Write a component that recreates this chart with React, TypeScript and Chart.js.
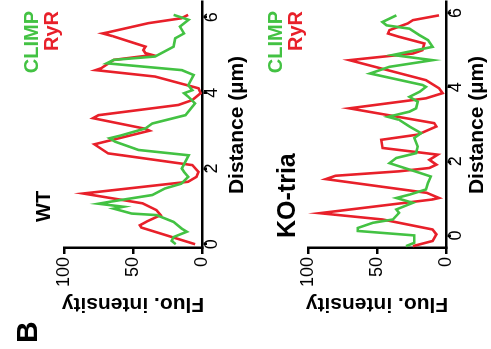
import React, { useEffect, useRef } from 'react';
import { Chart, registerables } from 'chart.js';

Chart.register(...registerables);

// ---- data (distance in µm, fluorescence intensity) ----
const distanceTicks = [0, 2, 4, 6];
const intensityTicks = [0, 50, 100];

const wtClimpDistance = [0, 0.09, 0.19, 0.33, 0.41, 0.59, 0.77, 0.81, 0.94, 0.99, 1.07, 1.12, 1.3, 1.47, 1.6, 1.78, 1.91, 2.0, 2.35, 2.49, 2.71, 2.8, 2.88, 3.06, 3.19, 3.41, 3.72, 3.9, 3.99, 4.07, 4.2, 4.47, 4.6, 4.78, 4.87, 4.96, 5.22, 5.44, 5.57, 5.75, 5.93, 6.06];
const wtClimpIntensity = [19, 22, 20.6, 11, 14.6, 20.6, 33, 51, 64, 57, 75, 67, 36, 27, 15, 10, 13, 14.6, 9.7, 46, 63, 67, 58, 41, 36, 12, 5, 10, 13, 7, 10, 6, 14.6, 69, 64, 34, 20.6, 19.4, 13, 16, 9.7, 20.6];

const wtRyrDistance = [0, 0.44, 0.5, 0.6, 0.77, 0.9, 1.08, 1.34, 1.65, 1.78, 1.91, 2.09, 2.35, 2.4, 2.64, 3.0, 3.05, 3.33, 3.41, 3.68, 3.81, 3.99, 4.12, 4.43, 4.6, 4.65, 4.87, 5.0, 5.05, 5.13, 5.22, 5.5, 5.57, 5.6, 5.84, 5.97, 6.06];
const wtRyrIntensity = [5, 44, 45, 40, 30, 33, 43, 86, 10, 4, 2.5, 7, 58, 68, 78, 38, 41, 79, 75, 17, 7, 1, 2.5, 34, 77, 73, 64, 36, 41, 42.5, 41, 65, 72, 68, 39, 15, 10];

const koClimpDistance = [-0.29, -0.2, 0.0, 0.12, 0.2, 0.34, 0.43, 0.61, 0.7, 0.88, 1.01, 1.1, 1.24, 1.42, 1.59, 1.7, 1.95, 2.09, 2.22, 2.4, 2.63, 2.76, 2.94, 3.12, 3.2, 3.34, 3.43, 3.61, 3.74, 3.88, 4.01, 4.06, 4.37, 4.55, 4.73, 4.87, 5.09, 5.27, 5.4, 5.58, 5.67, 5.76, 5.94];
const koClimpIntensity = [29, 23, 23, 64, 64, 53, 38.5, 34, 36, 24, 36, 26.5, 14.5, 13, 11, 20, 41, 36, 21.7, 20.5, 23, 18, 26.5, 34, 42, 26.5, 21.7, 20.5, 26.5, 19, 14.5, 17, 55, 41, 9.7, 38.5, 9.7, 13, 19, 26.5, 43, 46, 36];

const koRyrDistance = [-0.29, -0.15, 0.03, 0.16, 0.43, 0.6, 0.97, 1.01, 1.15, 1.52, 1.61, 1.73, 1.82, 1.91, 2.04, 2.18, 2.36, 2.58, 2.72, 2.94, 3.03, 3.43, 3.7, 3.84, 3.97, 4.19, 4.73, 4.91, 5.0, 5.18, 5.36, 5.45, 5.54, 5.72, 5.81, 5.94];
const koRyrIntensity = [24, 9.7, 7, 9.7, 46, 91.5, 9.7, 5, 14, 87, 80, 34, 12, 7, 12, 6, 46, 47, 20.5, 7, 8.5, 70, 14.5, 2.5, 5, 14.5, 70, 24, 17, 15.7, 34, 42, 41, 27.7, 24, 5];

// ---- styling ----
const GREEN = '#43c243';
const RED = '#e8202a';
const FONT = '"Liberation Sans", Arial, Helvetica, sans-serif';

const FIG_W = 349; // un-rotated figure width
const FIG_H = 491; // un-rotated figure height
const PLOT_LEFT = 101;
const PLOT_RIGHT = 347;
const PLOT_TOP = 64;
const PLOT_BOTTOM = 202;

const zip = (d: number[], v: number[]) => d.map((x, i) => ({ x, y: v[i] }));

const panelTextPlugin = {
  id: 'panelText',
  afterDraw(chart: any, _args: any, opts: any) {
    const ctx = chart.ctx as CanvasRenderingContext2D;
    ctx.save();
    ctx.textBaseline = 'alphabetic';
    if (opts.letter) {
      ctx.font = `bold 30px ${FONT}`;
      ctx.fillStyle = '#000';
      ctx.textAlign = 'left';
      ctx.fillText(opts.letter, opts.letterX, opts.letterY);
    }
    ctx.font = `bold ${opts.titleSize}px ${FONT}`;
    ctx.fillStyle = '#000';
    ctx.textAlign = 'left';
    ctx.fillText(opts.title, opts.titleX, opts.titleY);

    ctx.font = `bold 20px ${FONT}`;
    ctx.textAlign = 'right';
    ctx.fillStyle = GREEN;
    ctx.fillText('CLIMP', opts.legendRight, opts.legendY1);
    ctx.fillStyle = RED;
    ctx.fillText('RyR', opts.legendRight, opts.legendY2);
    ctx.restore();
  },
};

type PanelProps = {
  top: number;
  height: number;
  climpD: number[];
  climpI: number[];
  ryrD: number[];
  ryrI: number[];
  xMin: number;
  xMax: number;
  xTitlePad: number;
  text: any;
};

function Panel(p: PanelProps) {
  const ref = useRef<HTMLCanvasElement>(null);
  useEffect(() => {
    const canvas = ref.current!;
    const chart = new Chart(canvas, {
      type: 'line',
      data: {
        datasets: [
          { label: 'CLIMP', data: zip(p.climpD, p.climpI), borderColor: GREEN, backgroundColor: GREEN, borderWidth: 2.6, pointRadius: 0, tension: 0, fill: false, order: 0 },
          { label: 'RyR', data: zip(p.ryrD, p.ryrI), borderColor: RED, backgroundColor: RED, borderWidth: 2.6, pointRadius: 0, tension: 0, fill: false, order: 1 },
        ],
      },
      options: {
        animation: false,
        responsive: false,
        maintainAspectRatio: false,
        devicePixelRatio: 1,
        layout: { padding: { left: 0, right: FIG_W - PLOT_RIGHT, top: PLOT_TOP, bottom: 0 } },
        plugins: {
          legend: { display: false },
          tooltip: { enabled: false },
          panelText: p.text,
        } as any,
        scales: {
          x: {
            type: 'linear',
            position: 'bottom',
            min: p.xMin,
            max: p.xMax,
            afterFit: (s: any) => { s.height = p.height - PLOT_BOTTOM; s.paddingLeft = 0; s.paddingRight = 0; },
            afterBuildTicks: (s: any) => { s.ticks = distanceTicks.map((v) => ({ value: v })); },
            ticks: { color: '#000', font: { family: FONT, size: 18, lineHeight: 1 }, padding: -4, maxRotation: 0, minRotation: 0, autoSkip: false },
            grid: { drawOnChartArea: false, drawTicks: true, tickLength: 5, color: '#000', lineWidth: 2.5 },
            border: { display: true, color: '#000', width: 2.5 },
            title: { display: true, text: 'Distance (µm)', color: '#000', font: { family: FONT, size: 21, weight: 'bold', lineHeight: 1 }, padding: { top: 0, bottom: p.xTitlePad } },
          },
          y: {
            type: 'linear',
            min: 0,
            max: 100,
            afterFit: (s: any) => { s.width = PLOT_LEFT; s.paddingTop = 0; s.paddingBottom = 0; },
            afterBuildTicks: (s: any) => { s.ticks = intensityTicks.map((v) => ({ value: v })); },
            ticks: { color: '#000', font: { family: FONT, size: 18 }, padding: 3 },
            grid: { drawOnChartArea: false, drawTicks: true, tickLength: 6, color: '#000', lineWidth: 2.5 },
            border: { display: true, color: '#000', width: 2.5 },
            title: { display: true, text: 'Fluo. intensity', color: '#000', font: { family: FONT, size: 21, weight: 'bold', lineHeight: 1 }, padding: { top: 34.5, bottom: 0 } },
          },
        },
      } as any,
      plugins: [panelTextPlugin as any],
    });
    return () => chart.destroy();
  }, []);
  return (
    <canvas
      ref={ref}
      width={FIG_W}
      height={p.height}
      style={{ position: 'absolute', left: 0, top: p.top, width: FIG_W, height: p.height }}
    />
  );
}

export default function App() {
  return (
    <div style={{ position: 'fixed', left: 0, top: 0, width: FIG_H, height: FIG_W, overflow: 'hidden', background: '#fff' }}>
      <div
        style={{
          position: 'absolute',
          left: 0,
          top: 0,
          width: FIG_W,
          height: FIG_H,
          transformOrigin: '0 0',
          transform: `translateY(${FIG_W}px) rotate(-90deg)`,
        }}
      >
        <Panel
          top={0}
          height={260}
          climpD={wtClimpDistance}
          climpI={wtClimpIntensity}
          ryrD={wtRyrDistance}
          ryrI={wtRyrIntensity}
          xMin={-0.1}
          xMax={6.4}
          xTitlePad={11.8}
          text={{ letter: 'B', letterX: 6, letterY: 37, title: 'WT', titleX: 127, titleY: 50, titleSize: 20, legendRight: 338, legendY1: 38, legendY2: 58 }}
        />
        <Panel
          top={244}
          height={247}
          climpD={koClimpDistance}
          climpI={koClimpIntensity}
          ryrD={koRyrDistance}
          ryrI={koRyrIntensity}
          xMin={-0.34}
          xMax={6.3}
          xTitlePad={2.8}
          text={{ title: 'KO-tria', titleX: 111, titleY: 51, titleSize: 25, legendRight: 338, legendY1: 38, legendY2: 58 }}
        />
      </div>
    </div>
  );
}
